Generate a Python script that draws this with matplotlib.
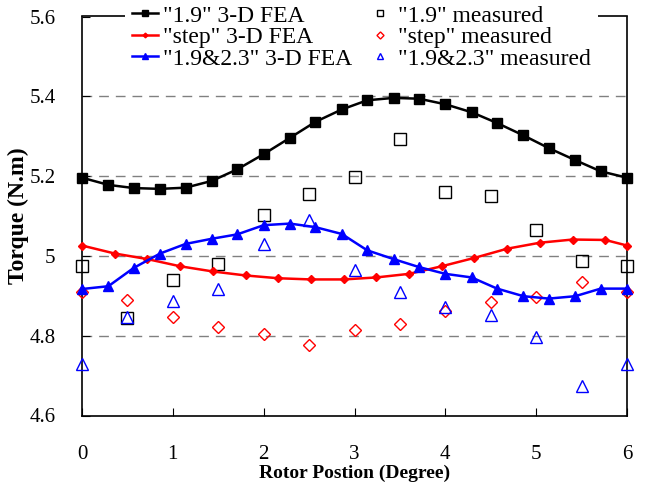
import matplotlib
matplotlib.use("Agg")
import matplotlib.pyplot as plt

plt.rcParams['font.family'] = ['Liberation Serif', 'DejaVu Serif']

# FEA curves (rotor position in degrees)
x_fea = [0, 0.29, 0.57, 0.86, 1.14, 1.43, 1.71, 2.0, 2.29, 2.57, 2.86,
         3.14, 3.43, 3.71, 4.0, 4.29, 4.57, 4.86, 5.14, 5.43, 5.71, 6.0]
fea_19 = [5.196, 5.178, 5.170, 5.168, 5.171, 5.188, 5.217, 5.255, 5.296, 5.336, 5.367,
          5.390, 5.396, 5.394, 5.380, 5.360, 5.333, 5.302, 5.270, 5.240, 5.212, 5.196]
fea_1923 = [4.917, 4.924, 4.970, 5.006, 5.030, 5.043, 5.054, 5.077, 5.081, 5.072, 5.055,
            5.014, 4.992, 4.972, 4.955, 4.946, 4.918, 4.899, 4.893, 4.899, 4.918, 4.918]
x_step = [0, 0.36, 0.72, 1.08, 1.44, 1.8, 2.16, 2.52, 2.88, 3.24, 3.6,
          3.96, 4.32, 4.68, 5.04, 5.4, 5.76, 6.0]
fea_step = [5.026, 5.006, 4.992, 4.974, 4.961, 4.951, 4.944, 4.941, 4.941, 4.946, 4.955,
            4.974, 4.995, 5.018, 5.033, 5.041, 5.040, 5.026]

# measured
x_meas = [0, 0.5, 1.0, 1.5, 2.0, 2.5, 3.0, 3.5, 4.0, 4.5, 5.0, 5.5, 6.0]
meas_19 = [4.974, 4.844, 4.939, 4.980, 5.103, 5.155, 5.198, 5.292, 5.161, 5.149, 5.065, 4.987, 4.974]
meas_step = [4.909, 4.890, 4.847, 4.822, 4.804, 4.777, 4.815, 4.829, 4.862, 4.884, 4.897, 4.935, 4.909]
meas_1923 = [4.730, 4.846, 4.888, 4.917, 5.031, 5.089, 4.965, 4.910, 4.873, 4.852, 4.797, 4.674, 4.730]

fig = plt.figure(figsize=(6.57, 4.88), dpi=100)
ax = fig.add_axes([82/657, 1 - 415.5/488, 545/657, 399/488])

for y in [4.8, 5.0, 5.2, 5.4]:
    ax.axhline(y, color='#808080', lw=1, dashes=(7, 5), zorder=1)

ax.plot(x_fea, fea_19, color='black', lw=1.8, marker='s', ms=6.5,
        label='"1.9" 3-D FEA', clip_on=False, zorder=4)
ax.plot(x_step, fea_step, color='red', lw=1.8, marker='D', ms=4,
        label='"step" 3-D FEA', clip_on=False, zorder=4)
ax.plot(x_fea, fea_1923, color='blue', lw=1.8, marker='^', ms=6.5,
        label='"1.9&2.3" 3-D FEA', clip_on=False, zorder=4)

ax.plot(x_meas, meas_19, ls='none', marker='s', ms=8, mfc='none', mec='black', mew=1,
        label='"1.9" measured', clip_on=False, zorder=3)
ax.plot(x_meas, meas_step, ls='none', marker='D', ms=6, mfc='none', mec='red', mew=1,
        label='"step" measured', clip_on=False, zorder=3)
ax.plot(x_meas, meas_1923, ls='none', marker='^', ms=8, mfc='none', mec='blue', mew=1,
        label='"1.9&2.3" measured', clip_on=False, zorder=3)

ax.set_xlim(0, 6)
ax.set_ylim(4.6, 5.6)
ax.set_xticks([0, 1, 2, 3, 4, 5, 6])
ax.set_xticklabels(['0', '1', '2', '3', '4', '5', '6'])
ax.set_yticks([4.6, 4.8, 5.0, 5.2, 5.4, 5.6])
ax.set_yticklabels(['4.6', '4.8', '5', '5.2', '5.4', '5.6'])
ax.tick_params(axis='x', direction='in', length=6, pad=21, labelsize=15)
ax.tick_params(axis='y', direction='in', length=6, pad=19, labelsize=15)
for s in ax.spines.values():
    s.set_linewidth(1.2)

ax.set_xlabel('Rotor Postion (Degree)', fontsize=14, fontweight='bold', labelpad=0.5)
ax.set_ylabel('Torque (N.m)', fontsize=17, fontweight='bold', labelpad=0.5)

leg = ax.legend(ncol=2, loc='upper left', bbox_to_anchor=(125/657, 1.004),
                bbox_transform=fig.transFigure, fontsize=17, frameon=True,
                fancybox=False, edgecolor='none', facecolor='white', framealpha=1,
                handlelength=1.1, handletextpad=0.22, columnspacing=0.6,
                labelspacing=0.0, borderpad=0.3, markerscale=0.6, borderaxespad=0)
leg.set_zorder(10)

fig.savefig('out.png', dpi=100)
